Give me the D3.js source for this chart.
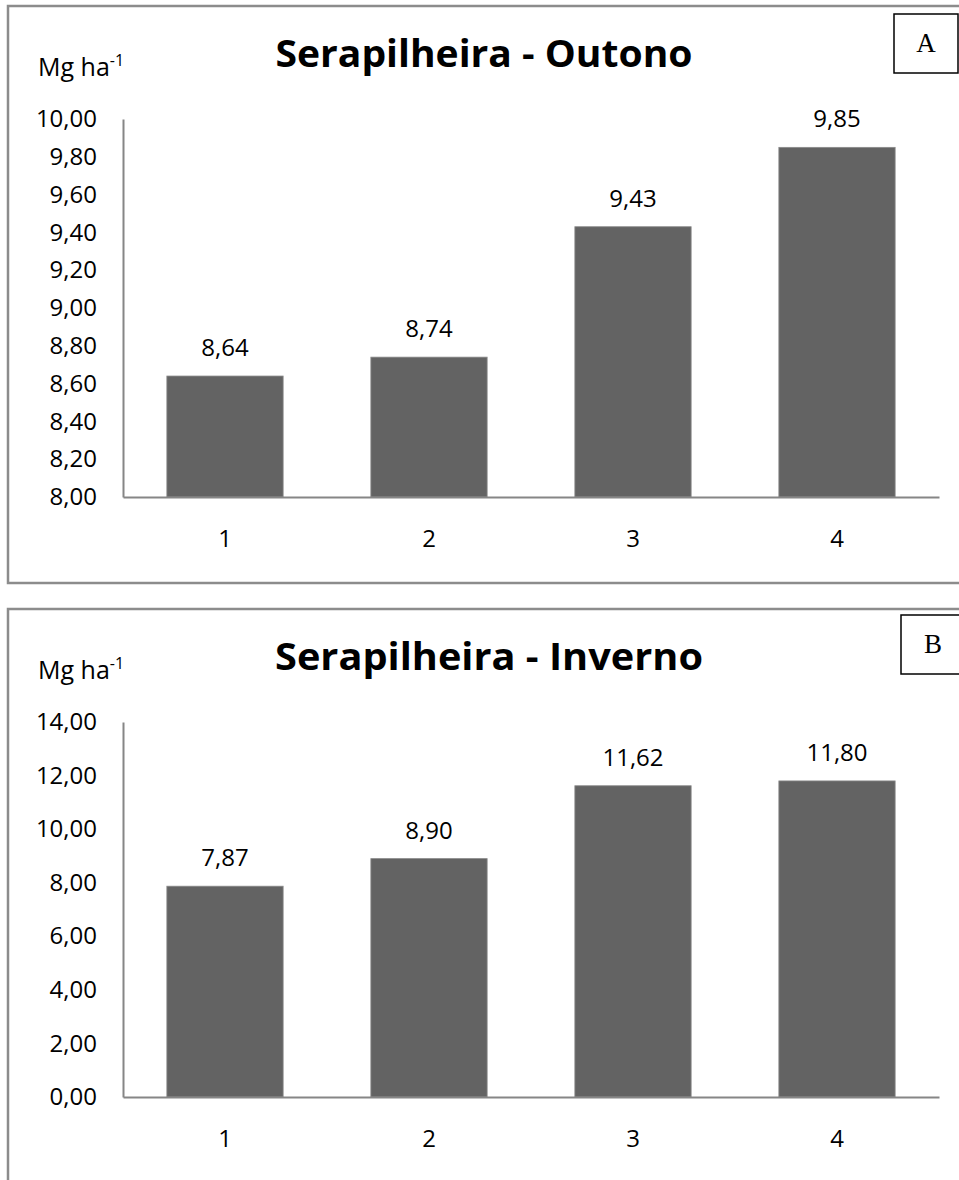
<!DOCTYPE html>
<html>
<head>
<meta charset="utf-8">
<script src="https://cdn.jsdelivr.net/npm/d3@7"></script>
<style>
  body { margin: 0; background: #fff; }
  svg text { font-family: "Open Sans", "Noto Sans", sans-serif; fill: #000; }
</style>
</head>
<body>
<div id="chart"></div>
<script>
// data
const categories = ['1', '2', '3', '4'];
const outonoValues = [8.64, 8.74, 9.43, 9.85];
const invernoValues = [7.87, 8.90, 11.62, 11.80];
const outonoTicks = [8.00, 8.20, 8.40, 8.60, 8.80, 9.00, 9.20, 9.40, 9.60, 9.80, 10.00];
const invernoTicks = [0, 2, 4, 6, 8, 10, 12, 14];
const panelTitles = ['Serapilheira - Outono', 'Serapilheira - Inverno'];
const panelLetters = ['A', 'B'];
const unitLabel = 'Mg ha';

const width = 959, height = 1180;
const ptBR = d3.formatLocale({ decimal: ',', thousands: '.', grouping: [3], currency: ['R$', ''] });
const fmt = ptBR.format('.2f');

const svg = d3.select('#chart').append('svg')
    .attr('width', width)
    .attr('height', height);

function drawPanel(cfg) {
    const g = svg.append('g').attr('transform', `translate(0,${cfg.offset})`);

    // outer frame (right side runs off the page)
    g.append('rect')
        .attr('x', 8).attr('y', 6)
        .attr('width', 970).attr('height', 577)
        .attr('fill', 'none')
        .attr('stroke', '#8c8c8c')
        .attr('stroke-width', 2.5);

    const x = d3.scaleBand()
        .domain(categories)
        .range([123, 939])
        .paddingInner(0.43)
        .paddingOuter(0.215);
    const y = d3.scaleLinear()
        .domain(d3.extent(cfg.ticks))
        .range([cfg.yBottom, cfg.yTop]);

    const yAxis = g.append('g')
        .attr('transform', 'translate(123,0)')
        .call(d3.axisLeft(y).tickValues(cfg.ticks).tickFormat(fmt)
            .tickSize(0).tickSizeOuter(0).tickPadding(26));
    yAxis.selectAll('text').attr('font-size', 24);

    g.append('g').selectAll('rect').data(cfg.values)
        .join('rect')
        .attr('x', (d, i) => x(categories[i]))
        .attr('y', d => y(d))
        .attr('width', x.bandwidth())
        .attr('height', d => cfg.yBottom - y(d))
        .attr('fill', '#636363')
        .attr('stroke', '#8a8a8a')
        .attr('stroke-width', 0.8);

    const xAxis = g.append('g')
        .attr('transform', `translate(0,${cfg.yBottom})`)
        .call(d3.axisBottom(x).tickSize(0).tickSizeOuter(0).tickPadding(33));
    xAxis.selectAll('text').attr('font-size', 24);

    [yAxis, xAxis].forEach(a => {
        a.select('.domain').attr('stroke', '#868686').attr('stroke-width', 2);
        a.selectAll('text').style('font-family', '"Open Sans", sans-serif');
    });

    g.append('g').selectAll('text').data(cfg.values)
        .join('text')
        .attr('x', (d, i) => x(categories[i]) + x.bandwidth() / 2)
        .attr('y', d => y(d) - 20)
        .attr('text-anchor', 'middle')
        .attr('font-size', 24)
        .text(d => fmt(d));

    // title
    g.append('text')
        .attr('x', cfg.titleX)
        .attr('y', 67)
        .attr('text-anchor', 'middle')
        .attr('font-size', 37)
        .attr('font-weight', 'bold')
        .attr('textLength', cfg.titleW)
        .attr('lengthAdjust', 'spacingAndGlyphs')
        .text(cfg.title);

    // unit label
    const unit = g.append('text')
        .attr('x', 38).attr('y', 76)
        .attr('font-size', 25);
    unit.append('tspan').text(unitLabel);
    unit.append('tspan').attr('font-size', 16).attr('dy', -10).text('-1');

    // letter box
    g.append('rect')
        .attr('x', cfg.boxX).attr('y', cfg.boxY)
        .attr('width', 64).attr('height', 59)
        .attr('fill', '#fff')
        .attr('stroke', '#000')
        .attr('stroke-width', 1.5);
    g.append('text')
        .attr('x', cfg.boxX + 32).attr('y', cfg.boxY + 38)
        .attr('text-anchor', 'middle')
        .attr('font-size', 27)
        .style('font-family', '"Liberation Serif", "DejaVu Serif", serif')
        .text(cfg.letter);
}

drawPanel({ offset: 0, values: outonoValues, ticks: outonoTicks, yTop: 119, yBottom: 497,
    title: panelTitles[0], titleX: 484, titleW: 417, letter: panelLetters[0], boxX: 894, boxY: 14 });
drawPanel({ offset: 603, values: invernoValues, ticks: invernoTicks, yTop: 119, yBottom: 494,
    title: panelTitles[1], titleX: 489, titleW: 428, letter: panelLetters[1], boxX: 901, boxY: 12 });
</script>
</body>
</html>
